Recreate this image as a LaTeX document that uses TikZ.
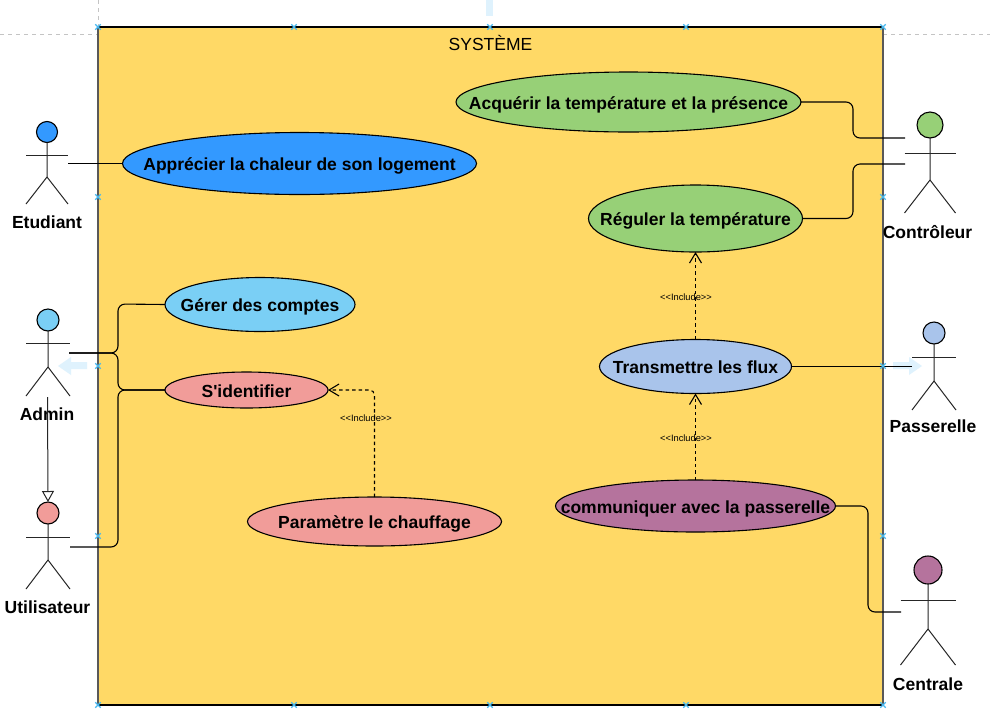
\documentclass[tikz,border=0pt]{standalone}
\usepackage{fontspec}
\setmainfont{Liberation Sans}
\usetikzlibrary{arrows.meta,shapes.geometric}
\definecolor{sysfill}{HTML}{FFD966}
\definecolor{ublue}{HTML}{3399FF}
\definecolor{ucyan}{HTML}{7ACFF5}
\definecolor{ured}{HTML}{F19C99}
\definecolor{ugreen}{HTML}{97D077}
\definecolor{uperi}{HTML}{A9C4EB}
\definecolor{upurple}{HTML}{B5739D}
\definecolor{handle}{HTML}{45B8F0}
\definecolor{ghost}{HTML}{DFF2FD}
\definecolor{guide}{HTML}{C4C4C4}
\tikzset{
  x=1pt,y=-1pt,
  usecase/.style={draw=black,line width=1.1pt,ellipse,inner sep=0pt,outer sep=0pt,font=\fontsize{17.5}{18}\selectfont\bfseries,text=black},
  actorhead/.style={draw=black,line width=1.1pt,circle,inner sep=0pt,outer sep=0pt},
  actorline/.style={draw=black!85,line width=1pt},
  actorlabel/.style={font=\fontsize{17.5}{18}\selectfont\bfseries,inner sep=0pt},
  link/.style={draw=black,line width=1.1pt,rounded corners=7pt},
  incl/.style={draw=black,line width=1.1pt,dash pattern=on 3.5pt off 3pt,rounded corners=5pt,-{Straight Barb[length=10pt,width=12pt,line width=1.1pt]}},
  incllabel/.style={font=\fontsize{9.3}{10}\selectfont,inner sep=0pt},
  gen/.style={draw=black!85,line width=1pt,-{Triangle[open,fill=white,length=11pt,width=12pt]}},
  ghostarrow/.style={fill=ghost,draw=none},
  guideline/.style={draw=guide,line width=.8pt,dash pattern=on 4pt off 4pt},
  handlemark/.style={draw=handle,line width=1.1pt},
}
% head x, head y, radius, arm y, half width, hip y, feet y, name
\newcommand{\stickman}[9]{%
  \node[actorhead,fill=#9,minimum size=#3*2pt] (#8) at (#1,#2) {};
  \draw[actorline] (#8.south) -- (#1,#6) -- (#1-#5,#7);
  \draw[actorline] (#1,#6) -- (#1+#5,#7);
  \draw[actorline] (#1-#5,#4) -- (#1+#5,#4);
}
\newcommand{\hmark}[2]{%
  \draw[handlemark] (#1-2.7,#2-2.7) -- (#1+2.7,#2+2.7) (#1-2.7,#2+2.7) -- (#1+2.7,#2-2.7);
}
\newcommand{\uctext}[1]{\makebox[0pt][c]{\raisebox{-7pt}[0pt][0pt]{#1}}}
\begin{document}
\begin{tikzpicture}
\useasboundingbox (0,0) rectangle (990,713);
\fill[white] (0,0) rectangle (990,713);
% guides
\draw[guideline] (0,34) -- (98,34);
\draw[guideline] (883,34) -- (990,34);
\draw[guideline] (98,0) -- (98,27);
% ghost arrow top
\fill[ghostarrow] (486,0) rectangle (492.7,16);
% system
\node[draw=black,line width=1.1pt,fill=sysfill,minimum width=785pt,minimum height=678pt,inner sep=0pt,outer sep=0pt,anchor=north west] (sys) at (98,27) {};
\draw[black!65,line width=1.6pt] (sys.north west) -- (sys.south west);
\draw[black!65,line width=1.6pt] (sys.north east) -- (sys.south east);
\node[font=\fontsize{17.5}{18}\selectfont,inner sep=0pt] (systitle) at (490.5,43) {SYSTÈME};
% use cases
\node[usecase,fill=ublue,minimum width=354pt,minimum height=62pt] (uc1) at (299.5,163.5) {\uctext{Apprécier la chaleur de son logement}};
\node[usecase,fill=ucyan,minimum width=190pt,minimum height=54pt] (uc2) at (260,304.5) {\uctext{Gérer des comptes}};
\node[usecase,fill=ured,minimum width=163pt,minimum height=36pt] (uc3) at (246.5,390) {\uctext{S\textquotesingle identifier}};
\node[usecase,fill=ured,minimum width=254pt,minimum height=49pt] (uc4) at (374.5,521.5) {\uctext{Paramètre le chauffage}};
\node[usecase,fill=ugreen,minimum width=345pt,minimum height=60pt] (uc5) at (628.5,102) {\uctext{Acquérir la température et la présence}};
\node[usecase,fill=ugreen,minimum width=214pt,minimum height=67pt] (uc6) at (695.5,218.5) {\uctext{Réguler la température}};
\node[usecase,fill=uperi,minimum width=192pt,minimum height=54pt] (uc7) at (695.5,366.5) {\uctext{Transmettre les flux}};
\node[usecase,fill=upurple,minimum width=280pt,minimum height=52pt] (uc8) at (695.5,506) {\uctext{communiquer avec la passerelle}};
% ghost arrows
\fill[ghostarrow] (87,362) -- (71,362) -- (71,357) -- (58,366) -- (71,375) -- (71,369) -- (87,369) -- cycle;
\fill[ghostarrow] (893,362) -- (909,362) -- (909,357) -- (922,366) -- (909,375) -- (909,369) -- (893,369) -- cycle;
% actors
\stickman{47}{132}{10.5}{155}{21}{177}{204}{etu}{ublue}
\stickman{48}{320}{11}{343}{22}{367}{396}{adm}{ucyan}
\stickman{48}{513}{11}{537}{22}{560}{589}{uti}{ured}
\stickman{930}{125}{13}{153}{25.5}{180}{213}{con}{ugreen}
\stickman{934}{333}{11}{357}{22}{381}{410}{pas}{uperi}
\stickman{928}{570}{14}{600}{27.5}{629}{665}{cen}{upurple}
\node[actorlabel] (etul) at (47,222.5) {Etudiant};
\node[actorlabel] (adml) at (47,414) {Admin};
\node[actorlabel] (util) at (47.5,607) {Utilisateur};
\node[actorlabel] (conl) at (927.5,232) {Contrôleur};
\node[actorlabel] (pasl) at (933,426) {Passerelle};
\node[actorlabel] (cenl) at (928,684) {Centrale};
% attach points
\coordinate (etuA) at (68,163.5);
\coordinate (admA) at (69,353);
\coordinate (utiA) at (70,547);
\coordinate (conA) at (905,138);
\coordinate (conB) at (905,164);
\coordinate (pasA) at (912,366.5);
\coordinate (cenA) at (901,612);
\coordinate (admG) at (47.5,397);
% connectors
\draw[link] (etuA) -- (uc1.west);
\draw[link] (admA) -| (118,304) -- (uc2.west);
\draw[link] (admA) -| (118,390) -- (uc3.west);
\draw[link] (utiA) -| (118,390) -- (uc3.west);
\draw[link] (uc5.east) -| (853,138) -- (conA);
\draw[link] (uc6.east) -| (853,164) -- (conB);
\draw[link] (uc7.east) -- (pasA);
\draw[link] (uc8.east) -| (868,612) -- (cenA);
\draw[gen] (admG) -- (uti.north);
\draw[incl] (uc4.north) |- (uc3.east);
\draw[incl] (uc7.north) -- (uc6.south);
\draw[incl] (uc8.north) -- (uc7.south);
\node[incllabel] (il1) at (366,418.5) {<{}<Include>{}>};
\node[incllabel] (il2) at (686,297) {<{}<Include>{}>};
\node[incllabel] (il3) at (686,438) {<{}<Include>{}>};
% handles
\hmark{98}{27}\hmark{294}{27}\hmark{490}{27}\hmark{686}{27}\hmark{883}{27}
\hmark{98}{197}\hmark{883}{197}
\hmark{98}{366}\hmark{883}{366}
\hmark{98}{536}\hmark{883}{536}
\hmark{98}{705}\hmark{294}{705}\hmark{490}{705}\hmark{686}{705}\hmark{883}{705}
\end{tikzpicture}
\end{document}
